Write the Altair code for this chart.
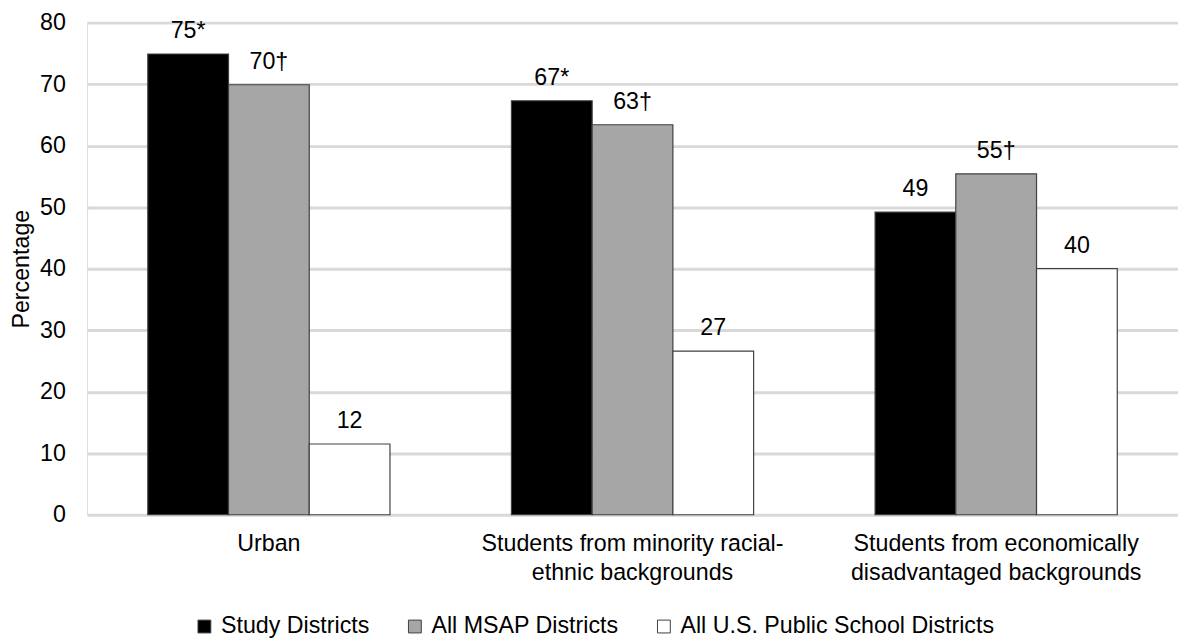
import altair as alt
import pandas as pd

categories = [
    "Urban",
    "Students from minority racial-\nethnic backgrounds",
    "Students from economically\ndisadvantaged backgrounds",
]
series = ["Study Districts", "All MSAP Districts", "All U.S. Public School Districts"]
study = [74.9, 67.3, 49.2]
msap = [69.9, 63.4, 55.4]
us = [11.5, 26.6, 40.0]
study_labels = ["75*", "67*", "49"]
msap_labels = ["70\u2020", "63\u2020", "55\u2020"]
us_labels = ["12", "27", "40"]
y_ticks = [0, 10, 20, 30, 40, 50, 60, 70, 80]
colors = ["#000000", "#A6A6A6", "#FFFFFF"]

rows = []
for vals, labs, s in [(study, study_labels, series[0]), (msap, msap_labels, series[1]), (us, us_labels, series[2])]:
    for c, v, l in zip(categories, vals, labs):
        rows.append({"category": c, "series": s, "value": v, "label": l})
df = pd.DataFrame(rows)

FONT = "Liberation Sans"
FS = 23.5

x = alt.X(
    "category:N",
    sort=categories,
    scale=alt.Scale(paddingInner=0.334, paddingOuter=0.167),
    axis=alt.Axis(
        title=None,
        labelExpr="split(datum.label, '\\n')",
        labelAngle=0,
        labelFontSize=FS,
        labelBaseline="alphabetic",
        labelPadding=36,
        labelLineHeight=30,
        labelLimit=0,
        ticks=False,
        domain=False,
        labelColor="black",
        labelFont=FONT,
        grid=False,
    ),
)
xo = alt.XOffset("series:N", sort=series, scale=alt.Scale(paddingInner=0, paddingOuter=0))
y = alt.Y(
    "value:Q",
    scale=alt.Scale(domain=[0, 80]),
    axis=alt.Axis(
        values=y_ticks,
        title="Percentage",
        titleFont=FONT,
        titleFontSize=FS,
        titleFontWeight="normal",
        titleColor="black",
        titleAngle=270,
        titleX=-66,
        titleY=249,
        titleBaseline="middle",
        titleAlign="center",
        labelFont=FONT,
        labelFontSize=FS,
        labelColor="black",
        labelPadding=22,
        ticks=False,
        domain=False,
        grid=True,
        gridColor="#D9D9D9",
        gridWidth=3,
    ),
)

bars = alt.Chart(df).mark_bar(stroke="#404040", strokeWidth=1.2).encode(
    x=x,
    xOffset=xo,
    y=y,
    color=alt.Color(
        "series:N",
        sort=series,
        scale=alt.Scale(domain=series, range=colors),
        legend=alt.Legend(
            title=None,
            orient="none",
            legendX=107,
            legendY=599,
            direction="horizontal",
            symbolType="square",
            symbolSize=169,
            symbolStrokeColor="#404040",
            symbolStrokeWidth=1,
            labelFont=FONT,
            labelFontSize=FS,
            labelColor="black",
            labelOffset=5,
            labelLimit=0,
            columnPadding=34,
            padding=0,
        ),
    ),
)

text = alt.Chart(df).mark_text(
    font=FONT, fontSize=FS, baseline="alphabetic", dy=-16, color="black"
).encode(x=x, xOffset=xo, y=y, text="label:N")

chart = (
    alt.layer(bars, text)
    .properties(
        width=1104,
        height=498,
        autosize=alt.AutoSizeParams(type="none"),
        padding={"left": 80, "top": 11, "right": 0, "bottom": 125},
    )
    .configure_view(stroke=None)
    .configure(background="white")
)

chart.save("out.html", embed_options={"renderer": "svg", "actions": False})
